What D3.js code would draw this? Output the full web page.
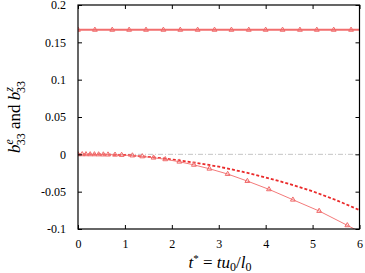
<!DOCTYPE html>
<html><head><meta charset="utf-8">
<script src="https://cdn.jsdelivr.net/npm/d3@7"></script>
<style>
html,body{margin:0;padding:0;background:#fff;}
</style></head>
<body><svg id="c" width="365" height="273"></svg>
<script>
// ---- data ----
const xTicks = [0,1,2,3,4,5,6];
const yTicks = [-0.1,-0.05,0,0.05,0.1,0.15,0.2];
const yTickLabels = ["-0.1","-0.05","0","0.05","0.1","0.15","0.2"];

// constant series (top)
const topT = [0,0.36,0.73,1.09,1.45,1.82,2.18,2.55,2.91,3.27,3.64,4.0,4.36,4.73,5.09,5.45,5.82,6.0];
const topV = [0.1667,0.1667,0.1667,0.1667,0.1667,0.1667,0.1667,0.1667,0.1667,0.1667,0.1667,0.1667,0.1667,0.1667,0.1667,0.1667,0.1667,0.1667];
const topMarked = 17; // first N points carry markers

// solid series with markers
const solT = [0,0.09,0.17,0.26,0.35,0.44,0.54,0.64,0.79,0.93,1.16,1.37,1.61,1.86,2.16,2.47,2.80,3.19,3.61,4.07,4.58,5.14,5.74,6.0];
const solV = [0,0,0,-0.0001,-0.0001,-0.0002,-0.0003,-0.0004,-0.0006,-0.0009,-0.0016,-0.0028,-0.0045,-0.0067,-0.0099,-0.0141,-0.0193,-0.0264,-0.0358,-0.0469,-0.0608,-0.0759,-0.0951,-0.1035];
const solMarked = 23;

// dashed series
const dashT = [0,0.5,1,1.5,2,2.5,3,3.5,4,4.5,5,5.5,6];
const dashV = [0,-0.0002,-0.0009,-0.0034,-0.0068,-0.0112,-0.0165,-0.0232,-0.0310,-0.0395,-0.0495,-0.0612,-0.0747];

// zero reference
const zeroT = [0,6];
const zeroV = [0,0];

// ---- layout ----
const FONT = "'Liberation Serif', 'Times New Roman', serif";
const L=78, R=359.5, T=5, B=229;
const svg = d3.select("#c");
const x = d3.scaleLinear().domain([0,6]).range([L,R]);
const y = d3.scaleLinear().domain([-0.1,0.2]).range([B,T]);

svg.append("defs").append("clipPath").attr("id","clip")
  .append("rect").attr("x",L).attr("y",T).attr("width",R-L).attr("height",B-T);

const g = svg.append("g").attr("clip-path","url(#clip)");
const line = d3.line().x(d=>x(d[0])).y(d=>y(d[1]));
const zip = (a,b)=>a.map((v,i)=>[v,b[i]]);

// zero line
g.append("path").datum(zip(zeroT,zeroV)).attr("d",line)
  .attr("fill","none").attr("stroke","#c4c4c4").attr("stroke-width",1)
  .attr("stroke-dasharray","5,2,1,2");

// top
g.append("path").datum(zip(topT,topV)).attr("d",line)
  .attr("fill","none").attr("stroke","#f26e6e").attr("stroke-width",2);
// dashed
g.append("path").datum(zip(dashT,dashV)).attr("d",line)
  .attr("fill","none").attr("stroke","#ea2a2a").attr("stroke-width",1.8)
  .attr("stroke-dasharray","3,2");
// solid thin
g.append("path").datum(zip(solT,solV)).attr("d",line)
  .attr("fill","none").attr("stroke","#f37a7a").attr("stroke-width",1);

const tri = d3.symbol().type(d3.symbolTriangle).size(10);
g.selectAll(".mt").data(zip(topT,topV).slice(0,topMarked)).join("path")
  .attr("d",tri).attr("transform",d=>`translate(${x(d[0])},${y(d[1])})`)
  .attr("fill","none").attr("stroke","#f06a6a").attr("stroke-width",1);
g.selectAll(".ms").data(zip(solT,solV).slice(0,solMarked)).join("path")
  .attr("d",tri).attr("transform",d=>`translate(${x(d[0])},${y(d[1])})`)
  .attr("fill","none").attr("stroke","#f06a6a").attr("stroke-width",1);

// ---- axes ----
const tl = 4;
const ax = svg.append("g");
ax.append("g").attr("transform",`translate(0,${B})`)
  .call(d3.axisBottom(x).tickValues(xTicks).tickSizeInner(-tl).tickSizeOuter(0).tickPadding(10).tickFormat(d3.format("d")))
  .call(s=>{s.select(".domain").remove();});
ax.append("g").attr("transform",`translate(0,${T})`)
  .call(d3.axisTop(x).tickValues(xTicks).tickSizeInner(-tl).tickSizeOuter(0).tickFormat(""))
  .call(s=>{s.select(".domain").remove();});
ax.append("g").attr("transform",`translate(${L},0)`)
  .call(d3.axisLeft(y).tickValues(yTicks).tickSizeInner(-tl).tickSizeOuter(0).tickPadding(12).tickFormat((d,i)=>yTickLabels[i]))
  .call(s=>{s.select(".domain").remove();});
ax.append("g").attr("transform",`translate(${R},0)`)
  .call(d3.axisRight(y).tickValues(yTicks).tickSizeInner(-tl).tickSizeOuter(0).tickFormat(""))
  .call(s=>{s.select(".domain").remove();});
ax.selectAll("text").style("font-family",FONT).style("font-size","12px");
ax.selectAll(".tick line").attr("stroke","#000");
svg.append("rect").attr("x",L).attr("y",T).attr("width",R-L).attr("height",B-T)
  .attr("fill","none").attr("stroke","#000").attr("stroke-width",1.2);

// x label
const xl = svg.append("text").attr("x",220).attr("y",268).attr("text-anchor","middle")
  .style("font-family",FONT).style("font-size","17px");
xl.append("tspan").style("font-style","italic").text("t");
xl.append("tspan").attr("dy",-6).style("font-size","11px").text("*");
xl.append("tspan").attr("dy",6).text(" = ");
xl.append("tspan").style("font-style","italic").text("tu");
xl.append("tspan").attr("dy",3).style("font-size","12px").text("0");
xl.append("tspan").attr("dy",-3).text("/");
xl.append("tspan").style("font-style","italic").text("l");
xl.append("tspan").attr("dy",3).style("font-size","12px").text("0");

// y label (rotated)
const yl = svg.append("g").attr("transform","translate(20,117) rotate(-90)");
const yt = yl.append("text").attr("x",0).attr("y",0).attr("text-anchor","middle")
  .style("font-family",FONT).style("font-size","17px");
yt.append("tspan").style("font-style","italic").text("b");
yt.append("tspan").attr("dy",-7).style("font-size","12px").style("font-style","italic").text("e");
yt.append("tspan").attr("dx",-6).attr("dy",12).style("font-size","12px").text("33");
yt.append("tspan").attr("dy",-5).text(" and ");
yt.append("tspan").style("font-style","italic").text("b");
yt.append("tspan").attr("dy",-7).style("font-size","12px").style("font-style","italic").text("z");
yt.append("tspan").attr("dx",-6).attr("dy",12).style("font-size","12px").text("33");
</script></body></html>
